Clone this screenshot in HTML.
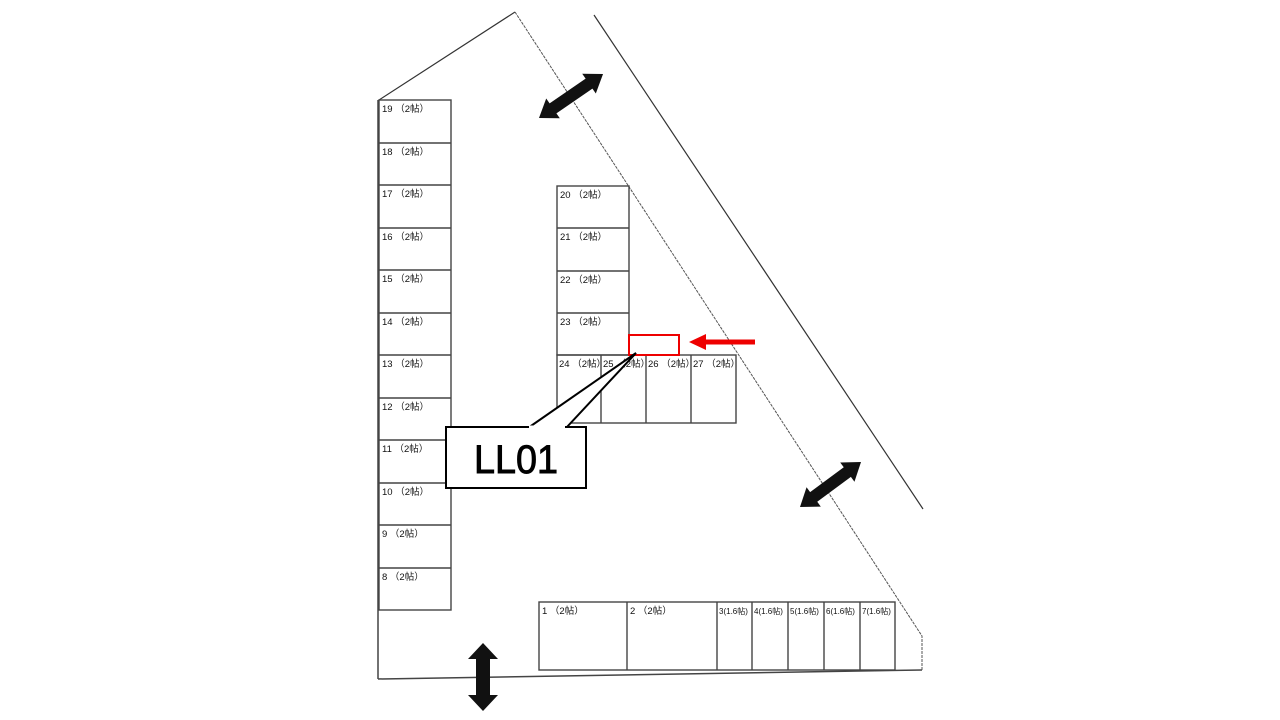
<!DOCTYPE html>
<html><head><meta charset="utf-8"><style>
html,body{margin:0;padding:0;background:#fff;}
svg{display:block;}
.t{font-family:"Liberation Sans","Noto Sans CJK JP",sans-serif;font-size:9.5px;fill:#111;}
.s{font-family:"Liberation Sans","Noto Sans CJK JP",sans-serif;font-size:8px;fill:#111;}
</style></head><body>
<svg width="1280" height="720" viewBox="0 0 1280 720" xmlns="http://www.w3.org/2000/svg">
<rect width="1280" height="720" fill="#fff"/>
<!-- outline -->
<polyline points="379,100 515,12" fill="none" stroke="#333" stroke-width="1.2"/>
<line x1="378" y1="100" x2="378" y2="679" stroke="#444" stroke-width="1.5"/>
<line x1="378" y1="679" x2="922" y2="670" stroke="#444" stroke-width="1.5"/>
<polyline points="515,12 922,636 922,670" fill="none" stroke="#555" stroke-width="1" stroke-dasharray="3,1"/>
<line x1="594" y1="15" x2="923" y2="509" stroke="#333" stroke-width="1.2"/>

<!-- left column -->
<g fill="none" stroke="#444" stroke-width="1.4">
<rect x="379" y="100" width="72" height="510"/>
<line x1="379" y1="143" x2="451" y2="143"/>
<line x1="379" y1="185" x2="451" y2="185"/>
<line x1="379" y1="228" x2="451" y2="228"/>
<line x1="379" y1="270" x2="451" y2="270"/>
<line x1="379" y1="313" x2="451" y2="313"/>
<line x1="379" y1="355" x2="451" y2="355"/>
<line x1="379" y1="398" x2="451" y2="398"/>
<line x1="379" y1="440" x2="451" y2="440"/>
<line x1="379" y1="483" x2="451" y2="483"/>
<line x1="379" y1="525" x2="451" y2="525"/>
<line x1="379" y1="568" x2="451" y2="568"/>
</g>
<g class="t">
<text x="382" y="112">19 （2帖）</text>
<text x="382" y="155">18 （2帖）</text>
<text x="382" y="197">17 （2帖）</text>
<text x="382" y="240">16 （2帖）</text>
<text x="382" y="282">15 （2帖）</text>
<text x="382" y="325">14 （2帖）</text>
<text x="382" y="367">13 （2帖）</text>
<text x="382" y="410">12 （2帖）</text>
<text x="382" y="452">11 （2帖）</text>
<text x="382" y="495">10 （2帖）</text>
<text x="382" y="537">9 （2帖）</text>
<text x="382" y="580">8 （2帖）</text>
</g>

<!-- middle column -->
<g fill="none" stroke="#444" stroke-width="1.4">
<rect x="557" y="186" width="72" height="169"/>
<line x1="557" y1="228" x2="629" y2="228"/>
<line x1="557" y1="271" x2="629" y2="271"/>
<line x1="557" y1="313" x2="629" y2="313"/>
<rect x="557" y="355" width="179" height="68"/>
<line x1="601" y1="355" x2="601" y2="423"/>
<line x1="646" y1="355" x2="646" y2="423"/>
<line x1="691" y1="355" x2="691" y2="423"/>
</g>
<g class="t">
<text x="560" y="198">20 （2帖）</text>
<text x="560" y="240">21 （2帖）</text>
<text x="560" y="283">22 （2帖）</text>
<text x="560" y="325">23 （2帖）</text>
<text x="559" y="367">24 （2帖）</text>
<text x="603" y="367">25 （2帖）</text>
<text x="648" y="367">26 （2帖）</text>
<text x="693" y="367">27 （2帖）</text>
</g>

<!-- bottom row -->
<g fill="none" stroke="#444" stroke-width="1.4">
<rect x="539" y="602" width="356" height="68"/>
<line x1="627" y1="602" x2="627" y2="670"/>
<line x1="717" y1="602" x2="717" y2="670"/>
<line x1="752" y1="602" x2="752" y2="670"/>
<line x1="788" y1="602" x2="788" y2="670"/>
<line x1="824" y1="602" x2="824" y2="670"/>
<line x1="860" y1="602" x2="860" y2="670"/>
</g>
<g class="t">
<text x="542" y="614">1 （2帖）</text>
<text x="630" y="614">2 （2帖）</text>
</g>
<g class="s">
<text x="719" y="614">3(1.6帖)</text>
<text x="754" y="614">4(1.6帖)</text>
<text x="790" y="614">5(1.6帖)</text>
<text x="826" y="614">6(1.6帖)</text>
<text x="862" y="614">7(1.6帖)</text>
</g>

<!-- red marker -->
<rect x="629" y="335" width="50" height="20" fill="none" stroke="#e00" stroke-width="2"/>
<line x1="755" y1="342" x2="705" y2="342" stroke="#e00" stroke-width="5"/>
<polygon points="689,342 706,334 706,350" fill="#e00"/>

<!-- callout -->
<polygon points="528,428 636,353 566,428" fill="#fff" stroke="#000" stroke-width="2" stroke-linejoin="miter"/>
<rect x="446" y="427" width="140" height="61" fill="#fff" stroke="#000" stroke-width="2"/>
<line x1="529" y1="427" x2="565" y2="427" stroke="#fff" stroke-width="3"/>
<text x="516" y="473" text-anchor="middle" font-family="'Liberation Sans',sans-serif" font-size="40" textLength="84" lengthAdjust="spacingAndGlyphs" fill="#000" stroke="#000" stroke-width="0.9">LL01</text>

<!-- double arrows -->
<g fill="#111">
<g transform="translate(539,118) rotate(-34.5)">
<polygon points="0,0 17,-12 17,-6 60.7,-6 60.7,-12 77.7,0 60.7,12 60.7,6 17,6 17,12"/>
</g>
<g transform="translate(800,507) rotate(-36.4)">
<polygon points="0,0 17,-12 17,-6 58.8,-6 58.8,-12 75.8,0 58.8,12 58.8,6 17,6 17,12"/>
</g>
<g transform="translate(483,643) rotate(90)">
<polygon points="0,0 16,-15 16,-7 52,-7 52,-15 68,0 52,15 52,7 16,7 16,15"/>
</g>
</g>
</svg>
</body></html>
